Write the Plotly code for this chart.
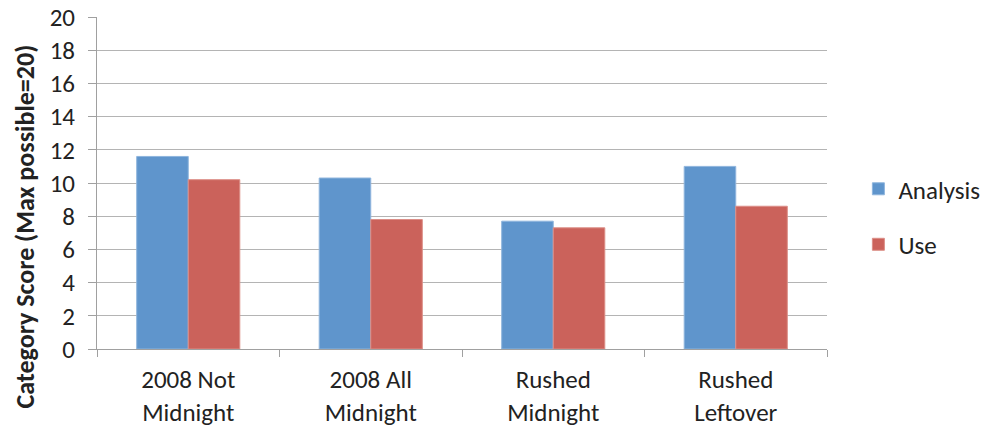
import plotly.graph_objects as go

categories = ["2008 Not<br>Midnight", "2008 All<br>Midnight", "Rushed<br>Midnight", "Rushed<br>Leftover"]
analysis = [11.6, 10.3, 7.7, 11.0]
use = [10.2, 7.8, 7.3, 8.6]
y_ticks = list(range(0, 21, 2))
y_title = "Category Score (Max possible=20)"

font_family = "Carlito, Open Sans, Liberation Sans, sans-serif"
grid_color = "#b4b4b4"
axis_color = "#a0a0a0"

fig = go.Figure()
fig.add_trace(go.Bar(
    name="Analysis", x=categories, y=analysis, legendgroup="a",
    marker=dict(color="#5f95cc", line=dict(color="#8fb5dd", width=1)),
))
fig.add_trace(go.Bar(
    name="Use", x=categories, y=use, legendgroup="u",
    marker=dict(color="#cb625b", line=dict(color="#dc8f88", width=1)),
))

# Axis title placed as a rotated annotation, centred on the whole chart height
fig.add_annotation(
    text=f"<b>{y_title}</b>", textangle=-90,
    xref="paper", yref="paper", x=-0.099, y=0.368,
    xanchor="center", yanchor="middle", showarrow=False,
    font=dict(size=26, color="#222222"),
)

fig.update_layout(
    width=985, height=428,
    margin=dict(l=97, r=158, t=17, b=79, autoexpand=False),
    paper_bgcolor="white", plot_bgcolor="white",
    barmode="group", bargap=0.435, bargroupgap=0,
    font=dict(family=font_family, color="#222222", size=25),
    showlegend=True,
    legend=dict(
        x=1.043, xanchor="left", y=0.399, yanchor="middle",
        font=dict(size=25), traceorder="grouped", tracegroupgap=20,
        bgcolor="rgba(0,0,0,0)", itemwidth=30,
    ),
    xaxis=dict(
        showgrid=False, showline=True, linecolor=axis_color, linewidth=1,
        ticks="outside", tickson="boundaries", ticklen=7, tickcolor=axis_color,
        tickfont=dict(size=25), ticklabelstandoff=8, automargin=False,
    ),
    yaxis=dict(
        range=[0, 20], tickvals=y_ticks, showgrid=True, gridcolor=grid_color, gridwidth=1,
        showline=True, linecolor=axis_color, linewidth=1,
        ticks="outside", ticklen=8, tickcolor=axis_color,
        tickfont=dict(size=25), zeroline=False, ticklabelstandoff=8, automargin=False,
    ),
)

fig.write_html("out.html")
